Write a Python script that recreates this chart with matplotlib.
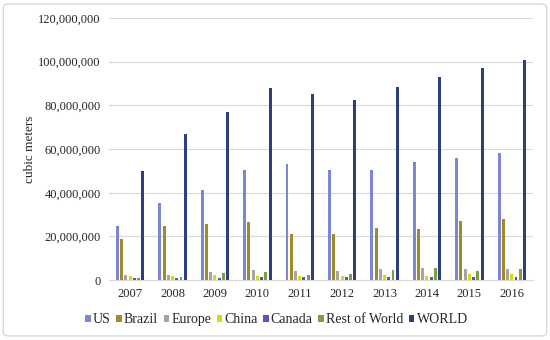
import matplotlib
matplotlib.use("Agg")
import matplotlib.pyplot as plt
import numpy as np
from matplotlib.patches import FancyBboxPatch
from matplotlib.ticker import FuncFormatter

years = ["2007", "2008", "2009", "2010", "2011", "2012", "2013", "2014", "2015", "2016"]
series = ["US", "Brazil", "Europe", "China", "Canada", "Rest of World", "WORLD"]

# values in millions of cubic meters
us = [25.0, 35.5, 41.5, 50.5, 53.0, 50.5, 50.5, 54.0, 56.0, 58.0]
brazil = [19.0, 25.0, 25.5, 26.5, 21.0, 21.0, 24.0, 23.5, 27.0, 28.0]
europe = [2.2, 2.5, 3.8, 4.5, 4.2, 4.2, 5.0, 5.5, 5.0, 5.0]
china = [1.8, 1.8, 2.3, 2.0, 2.0, 2.0, 2.5, 2.0, 3.0, 3.0]
canada = [0.8, 1.0, 1.0, 1.5, 1.5, 1.5, 1.5, 1.5, 1.5, 1.5]
rest = [1.0, 1.5, 3.5, 3.8, 2.5, 2.8, 4.5, 5.5, 4.0, 5.0]
world = [50.0, 67.0, 77.0, 88.0, 85.0, 82.5, 88.5, 93.0, 97.0, 101.0]

COLORS = ["#7b86d6", "#a08a2a", "#aaa3a3", "#d4dc00", "#5a52c4", "#7aa040", "#2e3f80"]

plt.rcParams["font.family"] = ["Liberation Serif", "DejaVu Serif"]

fig = plt.figure(figsize=(5.5, 3.4), dpi=100)
fig.patches.append(FancyBboxPatch(
    (0.006, 0.012), 0.988, 0.976, boxstyle="round,pad=0,rounding_size=0.01",
    transform=fig.transFigure, facecolor="none", edgecolor="#d9d9d9", linewidth=1.0))

ax = fig.add_axes([0.198, 0.176, 0.771, 0.771])

x = np.arange(len(years))
slot = 0.1
width = 0.07
for i, (name, vals) in enumerate(zip(series, [us, brazil, europe, china, canada, rest, world])):
    ax.bar(x + (i - 3) * slot, np.array(vals) * 1e6, width=width,
           color=COLORS[i], label=name, zorder=3)

ax.set_ylim(0, 120e6)
ax.set_yticks(np.arange(0, 120e6 + 1, 20e6))
ax.yaxis.set_major_formatter(FuncFormatter(lambda v, p: f"{v:,.0f}"))
ax.set_xlim(-0.5, len(years) - 0.5)
ax.set_xticks(x)
ax.set_xticklabels(years)
ax.grid(axis="y", color="#d9d9d9", linewidth=0.8, zorder=0)
for s in ["top", "right", "left"]:
    ax.spines[s].set_visible(False)
ax.spines["bottom"].set_color("#d9d9d9")
ax.tick_params(length=0, labelsize=9, pad=6, colors="#262626")
ax.set_ylabel("cubic meters", fontsize=9.5, color="#262626")
ax.yaxis.set_label_coords(-0.172, 0.5)

ax.legend(loc="center", bbox_to_anchor=(0.395, -0.15), ncol=7, frameon=False,
          fontsize=10, handlelength=0.4, handleheight=0.4, handletextpad=0.15,
          columnspacing=0.4, labelcolor="#262626")

fig.savefig("out.png", dpi=100)
